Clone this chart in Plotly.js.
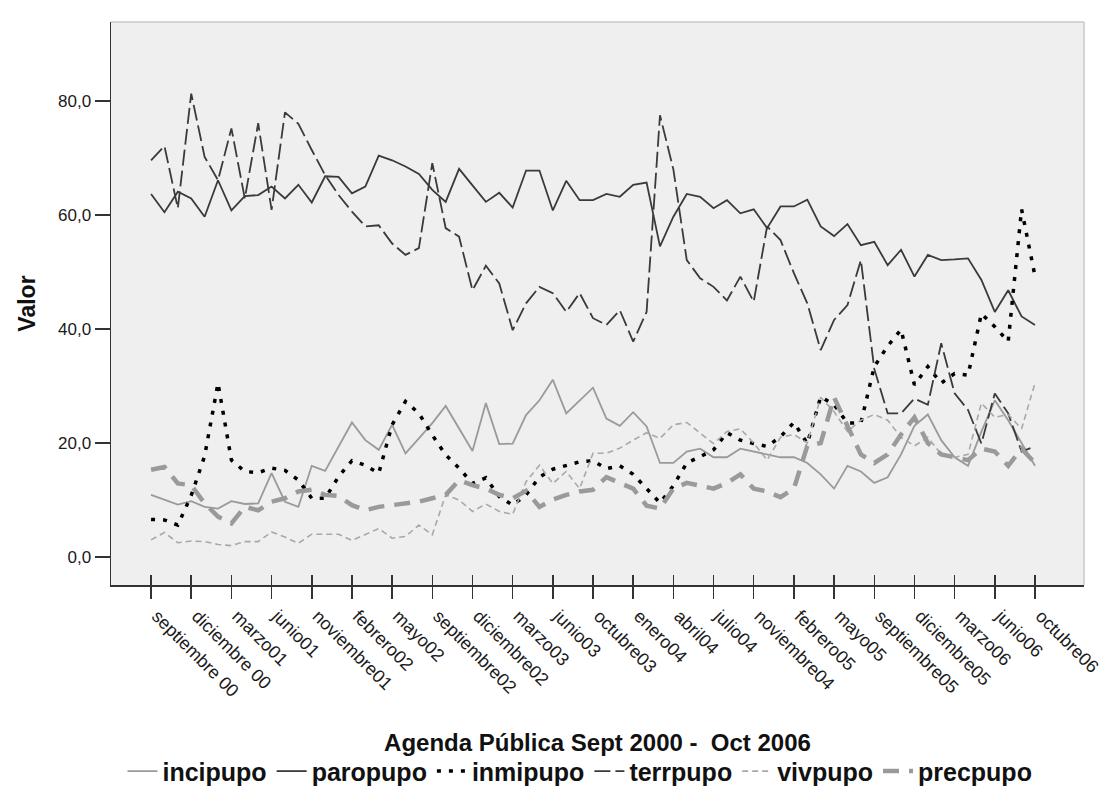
<!DOCTYPE html>
<html>
<head>
<meta charset="utf-8">
<script src="https://cdn.plot.ly/plotly-3.0.1.min.js"></script>
<style>html,body{margin:0;padding:0;background:#fff;}#chart{width:1103px;height:794px;}</style>
</head>
<body>
<div id="chart"></div>
<script>
// Periods (one category per survey wave)
const categories = ["sep00","oct00","nov00","dic00","ene01","feb01","mar01","abr01","may01","jun01",
  "sep01","oct01","nov01","dic01","ene02","feb02","mar02","abr02","may02","jun02",
  "jul02","sep02","oct02","nov02","dic02","ene03","feb03","mar03","abr03","may03",
  "jun03","jul03","sep03","oct03","nov03","dic03","ene04","feb04","mar04","abr04",
  "may04","jun04","jul04","sep04","oct04","nov04","dic04","ene05","feb05","mar05",
  "abr05","may05","jun05","jul05","sep05","oct05","nov05","dic05","ene06","feb06",
  "mar06","abr06","may06","jun06","jul06","sep06","oct06"];

const tickCats = ["sep00","dic00","mar01","jun01","nov01","feb02","may02","sep02","dic02","mar03","jun03","oct03",
  "ene04","abr04","jul04","nov04","feb05","may05","sep05","dic05","mar06","jun06","oct06"];
const tickLabels = ["septiembre 00","diciembre 00","marzo01","junio01","noviembre01","febrero02","mayo02","septiembre02",
  "diciembre02","marzo03","junio03","octubre03","enero04","abril04","julio04","noviembre04","febrero05","mayo05",
  "septiembre05","diciembre05","marzo06","junio06","octubre06"];

const incipupo = [10.9,10.0,9.2,9.8,8.8,8.5,9.8,9.3,9.4,14.7,9.7,8.8,16.0,15.1,19.4,23.6,20.5,18.8,23.2,18.2,
  20.8,23.5,26.5,22.6,18.6,27.0,19.8,19.9,24.9,27.5,31.1,25.2,27.5,29.7,24.3,23.0,25.4,22.9,16.5,16.5,
  18.5,19.0,17.5,17.5,19.0,18.5,18.0,17.5,17.5,16.5,14.5,12.0,16.0,15.0,13.0,14.0,18.0,23.0,25.0,20.5,
  17.5,16.0,22.0,27.5,24.0,20.0,16.0];
const paropupo = [63.7,60.5,64.1,62.9,59.7,66.1,60.8,63.3,63.5,65.0,62.9,65.3,62.2,66.8,66.7,63.8,65.0,70.4,69.6,68.5,
  67.2,64.4,62.3,68.1,65.2,62.3,63.9,61.3,67.8,67.8,60.8,66.0,62.6,62.6,63.7,63.2,65.3,65.7,54.5,59.7,
  63.7,63.2,61.2,62.6,60.3,61.0,57.7,61.5,61.5,62.7,58.0,56.3,58.4,54.7,55.3,51.2,53.9,49.2,53.0,52.1,
  52.2,52.4,48.6,43.0,46.8,42.2,40.7];
const inmipupo = [6.6,6.5,5.6,10.8,17.7,30.5,17.0,15.0,14.8,15.6,15.2,13.5,10.3,10.3,14.1,16.9,16.1,14.7,23.2,27.3,
  25.2,21.4,17.9,15.6,12.9,13.9,10.6,9.1,10.9,14.0,15.4,16.1,16.7,16.9,15.5,16.0,14.5,12.0,9.5,12.5,
  16.5,17.6,18.8,21.8,20.5,19.9,19.4,21.1,23.6,19.9,28.1,26.7,23.5,23.5,33.4,37.0,39.9,30.2,33.4,30.5,
  32.2,31.9,42.7,40.4,37.8,61.0,49.3];
const terrpupo = [69.6,72.1,61.2,81.3,70.2,66.1,75.2,62.9,76.1,60.9,78.0,76.0,71.4,67.0,63.5,60.6,58.0,58.2,55.0,53.0,
  54.2,69.1,57.7,56.2,46.8,51.1,48.0,39.8,44.5,47.4,46.3,43.0,46.3,41.9,40.7,43.3,37.8,43.0,77.5,68.0,
  52.1,48.9,47.4,45.0,49.2,44.8,58.0,55.6,49.8,44.5,36.3,41.6,44.2,52.1,33.0,25.2,25.2,27.8,26.7,37.5,
  28.7,25.8,19.9,28.7,25.2,18.5,19.4];
const vivpupo = [3.0,4.3,2.5,2.8,2.7,2.2,2.0,2.7,2.7,4.4,3.5,2.4,4.0,4.0,4.0,2.9,3.9,5.0,3.3,3.6,
  5.6,3.9,10.9,10.0,8.0,9.3,8.0,7.5,13.2,16.1,12.9,15.0,12.0,18.2,18.2,19.1,20.5,21.8,20.8,23.2,
  23.6,21.7,19.9,22.0,22.5,20.0,17.0,21.0,21.5,20.0,28.0,25.5,22.0,24.0,25.0,24.0,21.0,19.5,21.0,18.0,
  17.5,18.0,27.0,24.5,25.0,22.5,30.5];
const precpupo = [15.3,15.8,12.9,12.6,9.4,7.1,5.9,8.8,8.2,9.7,10.3,11.5,11.8,10.9,10.7,9.1,8.2,8.8,9.1,9.4,
  9.7,10.3,10.9,13.5,12.6,12.0,10.9,10.3,11.6,8.8,10.1,10.9,11.5,11.8,14.0,13.0,12.0,9.0,8.5,12.0,
  13.0,12.5,12.0,13.0,14.5,12.0,11.5,10.5,12.0,19.5,20.0,28.0,23.0,18.0,16.5,18.0,21.5,24.5,20.0,18.0,
  17.5,17.0,19.0,18.5,16.0,19.0,16.5];

const seriesNames = ["incipupo","paropupo","inmipupo","terrpupo","vivpupo","precpupo"];
const seriesValues = [incipupo, paropupo, inmipupo, terrpupo, vivpupo, precpupo];
const styles = [
  {color:"#9a9a9a", width:1.8, dash:"solid"},
  {color:"#3a3a3a", width:1.8, dash:"solid"},
  {color:"#000000", width:3.5, dash:"4px,8px"},
  {color:"#3a3a3a", width:1.8, dash:"16px,5px"},
  {color:"#a8a8a8", width:1.6, dash:"6px,4px"},
  {color:"#9a9a9a", width:4.5, dash:"16px,10px"}
];

const traces = seriesNames.map((n, k) => ({
  type: "scatter", mode: "lines", name: n,
  x: categories, y: seriesValues[k],
  line: styles[k], hoverinfo: "x+y+name"
}));

const tickIdx = tickCats.map(c => categories.indexOf(c));
// helper trace (no visible points) so the secondary x-axis can draw the inner half of the crossing tick marks
traces.push({type:"scatter", mode:"lines", x:tickIdx, y:tickIdx.map(()=>null), xaxis:"x2", yaxis:"y",
  showlegend:false, hoverinfo:"skip"});

const xr = [-2.99, categories.length - 1 + 3.66];
const font = "Liberation Sans, Arial, sans-serif";

const layout = {
  width: 1103, height: 794,
  margin: {l:111, r:19, t:22, b:209, autoexpand:false},
  paper_bgcolor: "#ffffff",
  plot_bgcolor: "#efefef",
  separators: ",.",
  font: {family: font, color: "#222"},
  showlegend: true,
  legend: {orientation:"h", x:0.482, xanchor:"center", y:-0.331, yanchor:"middle",
    font:{family:font, size:25, color:"#111", weight:"bold"}, itemwidth:30, tracegroupgap:0},
  xaxis: {
    type:"category", range: xr, tickmode:"array", tickvals: tickCats, ticktext: tickLabels,
    tickangle: 45, ticks:"outside", ticklen:12, tickwidth:1.5, tickcolor:"#333", automargin:false,
    ticklabelshift: 6,
    showline:true, linecolor:"#333", linewidth:1.5, showgrid:false, zeroline:false,
    tickfont:{family:font, size:18, color:"#1a1a1a"},
    title:{text:"Agenda Pública Sept 2000 -\u00a0 Oct 2006", font:{family:font, size:24, color:"#111", weight:"bold"}, standoff:34}
  },
  xaxis2: {
    overlaying:"x", anchor:"y", side:"bottom", range: xr, tickmode:"array", tickvals: tickIdx,
    ticks:"inside", ticklen:10, tickwidth:1.5, tickcolor:"#333", showticklabels:false,
    showline:false, showgrid:false, zeroline:false
  },
  yaxis: {
    range:[-4.91, 93.86], tickmode:"array", tickvals:[0,20,40,60,80], tickformat:".1f",
    ticks:"outside", ticklen:15, tickwidth:1.5, tickcolor:"#333", automargin:false,
    showline:true, linecolor:"#333", linewidth:1.5, showgrid:false, zeroline:false,
    tickfont:{family:font, size:17, color:"#1a1a1a"},
    title:{text:"Valor", font:{family:font, size:23, color:"#111", weight:"bold"}, standoff:16}
  },
  shapes: [
    {type:"line", xref:"paper", yref:"paper", x0:0, x1:1, y0:1, y1:1, line:{color:"#c8c8c8", width:1.5}, layer:"above"},
    {type:"line", xref:"paper", yref:"paper", x0:1, x1:1, y0:0, y1:1, line:{color:"#c8c8c8", width:1.5}, layer:"above"}
  ]
};

Plotly.newPlot("chart", traces, layout, {displayModeBar:false, staticPlot:true});
</script>
</body>
</html>
